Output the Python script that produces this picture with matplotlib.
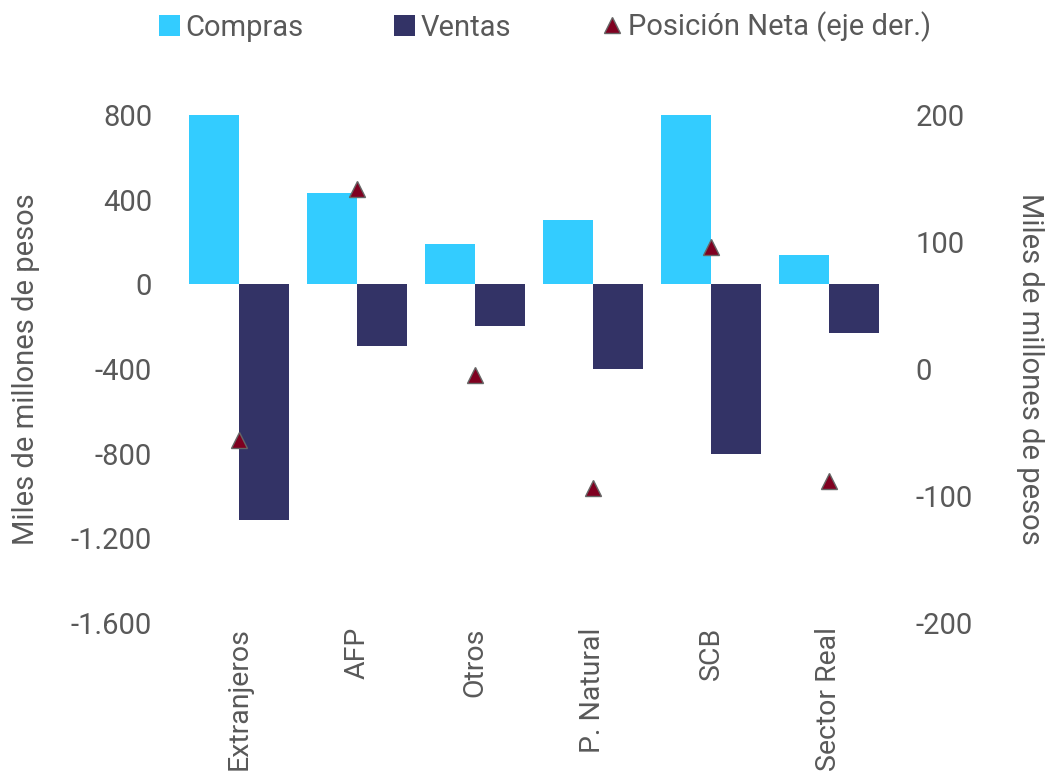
import numpy as np
import matplotlib.pyplot as plt
from matplotlib.patches import Patch
from matplotlib.lines import Line2D

categorias = ["Extranjeros", "AFP", "Otros", "P. Natural", "SCB", "Sector Real"]
compras = [1058, 430, 189, 302, 898, 137]
ventas = [-1114, -293, -198, -401, -802, -231]
posicion_neta = [-56, 142, -5, -94, 96, -88]

c_compras = "#33CCFF"
c_ventas = "#333366"
c_neta = "#7F0020"
gris = "#595959"

plt.rcParams["font.family"] = ["Roboto", "DejaVu Sans"]
plt.rcParams["axes.unicode_minus"] = False

fig = plt.figure(figsize=(10.46, 7.81), dpi=100)
ax = fig.add_axes([180 / 1046, 1 - 623 / 781, 708 / 1046, 508 / 781])
ax2 = ax.twinx()

x = np.arange(len(categorias))
w = 0.424
ax.bar(x - w / 2, compras, width=w, color=c_compras)
ax.bar(x + w / 2, ventas, width=w, color=c_ventas)
ax2.plot(x, posicion_neta, linestyle="none", marker="^", markersize=11.5,
         markerfacecolor=c_neta, markeredgecolor="#666666", markeredgewidth=1)

ax.set_xlim(-0.5, len(categorias) - 0.5)
ax.set_ylim(-1600, 800)
ax.set_yticks(np.arange(-1600, 801, 400))
ax.set_yticklabels([f"{v:,}".replace(",", ".") for v in range(-1600, 801, 400)])
ax2.set_ylim(-200, 200)
ax2.set_yticks([-200, -100, 0, 100, 200])

ax.set_xticks(x)
ax.set_xticklabels(categorias, rotation=90, fontsize=20.5, color=gris)

for a in (ax, ax2):
    for s in a.spines.values():
        s.set_visible(False)
    a.tick_params(axis="both", length=0, labelsize=21, labelcolor=gris)
ax.tick_params(axis="y", pad=20)
ax2.tick_params(axis="y", pad=20)
ax.tick_params(axis="x", pad=3, labelsize=20.5)

ax.set_ylabel("Miles de millones de pesos", fontsize=21, color=gris, va="center")
ax.yaxis.set_label_coords(-0.217, 0.5)
ax2.set_ylabel("Miles de millones de pesos", fontsize=21, color=gris,
               rotation=-90, va="center")
ax2.yaxis.set_label_coords(1.2, 0.5)

handles = [
    Patch(facecolor=c_compras, label="Compras"),
    Patch(facecolor=c_ventas, label="Ventas"),
    Line2D([], [], linestyle="none", marker="^", markersize=12,
           markerfacecolor=c_neta, markeredgecolor="#666666",
           label="Posición Neta (eje der.)"),
]
fig.legend(handles=handles, loc="center", bbox_to_anchor=(545 / 1046, 1 - 27 / 781),
           ncol=3, frameon=False, fontsize=21, labelcolor=gris,
           handlelength=0.7, handleheight=0.7, handletextpad=0.2, columnspacing=3.1)

fig.savefig("out.png", dpi=100)
